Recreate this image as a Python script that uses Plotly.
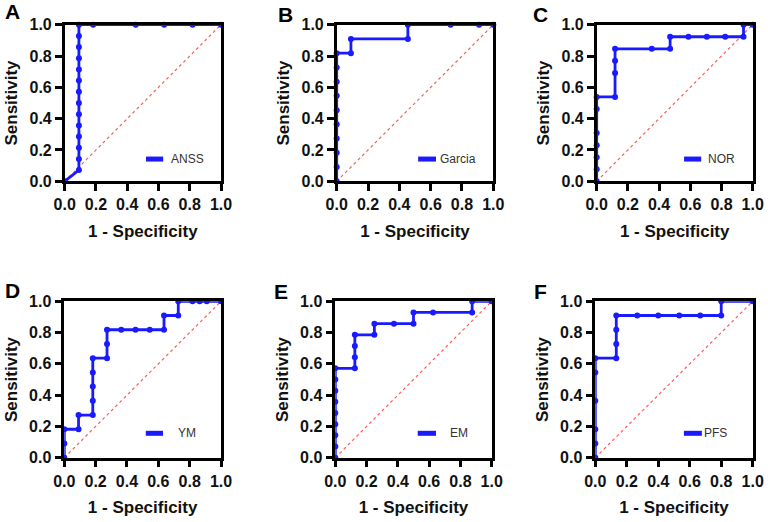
import plotly.graph_objects as go

# ---------------- data ----------------
panel_letters = ["A", "B", "C", "D", "E", "F"]
series_names = ["ANSS", "Garcia", "NOR", "YM", "EM", "PFS"]

anss_fpr = [0, 0.0909] + [0.0909] * 13 + [0.1818, 0.4545, 0.6364, 0.8182, 1.0]
anss_tpr = [0, 0.0714, 0.1429, 0.2143, 0.2857, 0.3571, 0.4286, 0.5, 0.5714, 0.6429,
            0.7143, 0.7857, 0.8571, 0.9286, 1.0, 1.0, 1.0, 1.0, 1.0, 1.0]

garcia_fpr = [0] * 10 + [0.0909, 0.0909, 0.4545, 0.4545, 0.7273, 0.9091, 1.0]
garcia_tpr = [0, 0.0909, 0.1818, 0.2727, 0.3636, 0.4545, 0.5455, 0.6364, 0.7273, 0.8182,
              0.8182, 0.9091, 0.9091, 1.0, 1.0, 1.0, 1.0]

nor_fpr = [0] * 7 + [0.1176] * 4 + [0.3529, 0.4706, 0.4706, 0.5882, 0.7059, 0.8235, 0.9412, 0.9412, 1.0]
nor_tpr = [0, 0.0769, 0.1538, 0.2308, 0.3077, 0.4615, 0.5385,
           0.5385, 0.6923, 0.7692, 0.8462,
           0.8462, 0.8462, 0.9231, 0.9231, 0.9231, 0.9231, 0.9231, 1.0, 1.0]

ym_fpr = [0, 0, 0, 0.0909, 0.0909, 0.1818, 0.1818, 0.1818, 0.1818, 0.1818,
          0.2727, 0.2727, 0.2727, 0.3636, 0.4545, 0.5455, 0.6364, 0.6364,
          0.7273, 0.7273, 0.8182, 0.8636, 0.9091, 1.0]
ym_tpr = [0, 0.0909, 0.1818, 0.1818, 0.2727, 0.2727, 0.3636, 0.4545, 0.5455, 0.6364,
          0.6364, 0.7273, 0.8182, 0.8182, 0.8182, 0.8182, 0.8182, 0.9091,
          0.9091, 1.0, 1.0, 1.0, 1.0, 1.0]

em_fpr = [0] * 9 + [0.125] * 4 + [0.25, 0.25, 0.375, 0.5, 0.5, 0.625, 0.875, 0.875, 1.0]
em_tpr = [0, 0.0714, 0.1429, 0.2143, 0.2857, 0.3571, 0.4286, 0.5, 0.5714,
          0.5714, 0.6429, 0.7143, 0.7857,
          0.7857, 0.8571, 0.8571, 0.8571, 0.9286, 0.9286, 0.9286, 1.0, 1.0]

pfs_fpr = [0] * 6 + [0.1333] * 4 + [0.2667, 0.4, 0.5333, 0.6667, 0.8, 0.8, 1.0]
pfs_tpr = [0, 0.0909, 0.1818, 0.3636, 0.5455, 0.6364,
           0.6364, 0.7273, 0.8182, 0.9091,
           0.9091, 0.9091, 0.9091, 0.9091, 0.9091, 1.0, 1.0]

fpr_list = [anss_fpr, garcia_fpr, nor_fpr, ym_fpr, em_fpr, pfs_fpr]
tpr_list = [anss_tpr, garcia_tpr, nor_tpr, ym_tpr, em_tpr, pfs_tpr]

tick_vals = [0.0, 0.2, 0.4, 0.6, 0.8, 1.0]
tick_text = ["0.0", "0.2", "0.4", "0.6", "0.8", "1.0"]
ref_line = [0, 1]

# ---------------- layout ----------------
W, H = 768, 522
# plot-area boxes in pixels: (left, right, top, bottom)
boxes = [
    (64.7, 221.0, 24.7, 181.3),
    (336.7, 493.3, 24.7, 181.3),
    (596.7, 752.7, 24.7, 181.3),
    (64.3, 221.0, 301.3, 457.7),
    (335.3, 491.7, 301.3, 457.7),
    (595.3, 752.7, 301.3, 457.7),
]
# legend positions (axis domain fractions): line x0, x1, y, text x
legend_pos = [
    (0.52, 0.63, 0.142, 0.67),
    (0.52, 0.634, 0.142, 0.65),
    (0.56, 0.67, 0.142, 0.70),
    (0.52, 0.63, 0.156, 0.71),
    (0.527, 0.644, 0.156, 0.72),
    (0.563, 0.677, 0.156, 0.68),
]
letter_pos = [(12.5, 12), (285, 14), (540, 14), (12.5, 290), (281, 291), (540, 291)]

FONT = "Arial, Liberation Sans, sans-serif"
BLUE = "#1a1aff"

fig = go.Figure()
shapes = []
annotations = []

for i in range(6):
    n = i + 1
    xa = "x" if n == 1 else f"x{n}"
    ya = "y" if n == 1 else f"y{n}"
    L, R, T, B = boxes[i]
    dom_x = [L / W, R / W]
    dom_y = [1 - B / H, 1 - T / H]

    fig.add_trace(go.Scatter(
        x=ref_line, y=ref_line, mode="lines", xaxis=xa, yaxis=ya,
        line=dict(color="#ff5c5c", width=1.2, dash="dot"), showlegend=False,
        hoverinfo="skip"))
    fig.add_trace(go.Scatter(
        x=fpr_list[i], y=tpr_list[i], mode="lines+markers", xaxis=xa, yaxis=ya,
        line=dict(color=BLUE, width=2.8), marker=dict(color=BLUE, size=6),
        name=series_names[i], showlegend=False, cliponaxis=False))

    axis_common = dict(
        range=[0, 1], tickvals=tick_vals, ticktext=tick_text,
        showgrid=False, zeroline=False, showline=True, linecolor="black",
        linewidth=2.5, mirror=True, ticks="outside", ticklen=7, tickwidth=2.5,
        tickcolor="black", automargin=False,
        tickfont=dict(family=FONT, size=16, color="#111111", weight="bold"),
    )
    fig.layout[f"xaxis{'' if n == 1 else n}"] = dict(
        axis_common, domain=dom_x, anchor=ya,
        title=dict(text="<b>1 - Specificity</b>", standoff=13,
                   font=dict(family=FONT, size=17, color="#111111")))
    fig.layout[f"yaxis{'' if n == 1 else n}"] = dict(
        axis_common, domain=dom_y, anchor=xa,
        title=dict(text="<b>Sensitivity</b>", standoff=8,
                   font=dict(family=FONT, size=17, color="#111111")))

    lx0, lx1, ly, tx = legend_pos[i]
    shapes.append(dict(type="line", xref=f"{xa} domain", yref=f"{ya} domain",
                       x0=lx0, x1=lx1, y0=ly, y1=ly,
                       line=dict(color=BLUE, width=5)))
    annotations.append(dict(xref=f"{xa} domain", yref=f"{ya} domain",
                            x=tx, y=ly, text=series_names[i], showarrow=False,
                            xanchor="left", yanchor="middle",
                            font=dict(family=FONT, size=12, color="#333333")))
    px, py = letter_pos[i]
    annotations.append(dict(xref="paper", yref="paper", x=px / W, y=1 - py / H,
                            text=f"<b>{panel_letters[i]}</b>", showarrow=False,
                            xanchor="center", yanchor="middle",
                            font=dict(family=FONT, size=21, color="black")))

fig.update_layout(
    width=W, height=H, margin=dict(l=0, r=0, t=0, b=0),
    paper_bgcolor="white", plot_bgcolor="white",
    shapes=shapes, annotations=annotations, showlegend=False,
)

fig.write_html("out.html", config={"displayModeBar": False},
               post_script="document.body.style.margin='0';document.body.style.overflow='hidden';")
